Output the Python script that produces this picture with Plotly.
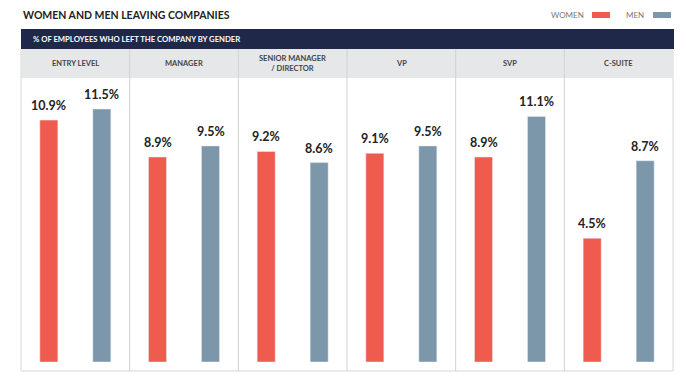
import plotly.graph_objects as go

categories = ["ENTRY LEVEL", "MANAGER", "SENIOR MANAGER<br>/ DIRECTOR", "VP", "SVP", "C-SUITE"]
women = [10.9, 8.9, 9.2, 9.1, 8.9, 4.5]
men = [11.5, 9.5, 8.6, 9.5, 11.1, 8.7]

RED = "#ef5b4f"
BLUE = "#7d97aa"
NAVY = "#20284a"
HDR = "#e6e7e9"
FONT = "Lato, 'Open Sans', sans-serif"

W, H = 686, 385
ml, mr, mt, mb = 21, 13, 78, 23
ph = H - mt - mb
pw = W - ml - mr

# the original chart's bars rise from a baseline slightly below zero
BASE = -2.2
YMAX = 13.18

def py(pix):
    return (H - mb - pix) / ph

def px(pix):
    return (pix - ml) / pw

fig = go.Figure()
fig.add_trace(go.Bar(x=categories, y=[v - BASE for v in women], base=BASE, name="WOMEN",
                     marker_color=RED, hoverinfo="skip"))
fig.add_trace(go.Bar(x=categories, y=[v - BASE for v in men], base=BASE, name="MEN",
                     marker_color=BLUE, hoverinfo="skip"))

annotations = []
n = len(categories)
for i, c in enumerate(categories):
    for vals, sh in ((women, -26.5), (men, 26.5)):
        annotations.append(dict(x=c, y=vals[i], xref="x", yref="y", text=f"{vals[i]}%",
                                showarrow=False, yanchor="bottom", xshift=sh, yshift=5,
                                font=dict(family=FONT, size=12.5, color="#222222", weight="bold")))
    annotations.append(dict(x=(i + 0.5) / n, y=py(63.5), xref="paper", yref="paper", text=c,
                            showarrow=False, yanchor="middle", xanchor="center",
                            font=dict(family=FONT, size=7.5, color="#444444", weight="bold")))

annotations.append(dict(x=0, y=py(15), xref="paper", yref="paper",
                        text="WOMEN AND MEN LEAVING COMPANIES", showarrow=False,
                        xanchor="left", yanchor="middle",
                        font=dict(family=FONT, size=10.5, color="#222222", weight="bold")))
annotations.append(dict(x=px(31), y=py(39), xref="paper", yref="paper",
                        text="% OF EMPLOYEES WHO LEFT THE COMPANY BY GENDER", showarrow=False,
                        xanchor="left", yanchor="middle",
                        font=dict(family=FONT, size=7.7, color="#ffffff", weight="bold")))
annotations.append(dict(x=px(586), y=py(15), xref="paper", yref="paper", text="WOMEN",
                        showarrow=False, xanchor="right", yanchor="middle",
                        font=dict(family=FONT, size=8, color="#777777")))
annotations.append(dict(x=px(646), y=py(15), xref="paper", yref="paper", text="MEN",
                        showarrow=False, xanchor="right", yanchor="middle",
                        font=dict(family=FONT, size=8, color="#777777")))

shapes = []
shapes.append(dict(type="rect", xref="paper", yref="paper", x0=0, x1=px(674), y0=py(49), y1=py(29),
                   fillcolor=NAVY, line=dict(width=0), layer="below"))
shapes.append(dict(type="rect", xref="paper", yref="paper", x0=0, x1=1, y0=py(78), y1=py(49),
                   fillcolor=HDR, line=dict(width=0), layer="below"))
shapes.append(dict(type="line", xref="paper", yref="paper", x0=0, x1=0, y0=py(371), y1=py(49),
                   line=dict(color="#e4e4e4", width=1.5)))
shapes.append(dict(type="line", xref="paper", yref="paper", x0=1, x1=1, y0=py(371), y1=py(49),
                   line=dict(color="#e4e4e4", width=1.5)))
shapes.append(dict(type="line", xref="paper", yref="paper", x0=0, x1=1, y0=py(371), y1=py(371),
                   line=dict(color="#e4e4e4", width=1.5)))
for k in range(1, n):
    shapes.append(dict(type="line", xref="paper", yref="paper", x0=k / n, x1=k / n,
                       y0=py(371), y1=py(49), line=dict(color="#d2d2d2", width=1)))
shapes.append(dict(type="rect", xref="paper", yref="paper", x0=px(592), x1=px(610), y0=py(18), y1=py(12),
                   fillcolor=RED, line=dict(width=0)))
shapes.append(dict(type="rect", xref="paper", yref="paper", x0=px(653), x1=px(671), y0=py(18), y1=py(12),
                   fillcolor=BLUE, line=dict(width=0)))

fig.update_layout(
    width=W, height=H,
    margin=dict(l=ml, r=mr, t=mt, b=mb, pad=0),
    paper_bgcolor="white", plot_bgcolor="white",
    barmode="group", bargap=0.025, bargroupgap=0.66,
    showlegend=False,
    xaxis=dict(showticklabels=False, showgrid=False, zeroline=False, showline=False, ticks=""),
    yaxis=dict(range=[BASE, YMAX], showticklabels=False, showgrid=False, zeroline=False,
               showline=False, ticks=""),
    annotations=annotations, shapes=shapes,
    font=dict(family=FONT),
)

fig.write_html("out.html", config={"displayModeBar": False},
               post_script="document.body.style.margin='0';document.body.style.padding='0';")
